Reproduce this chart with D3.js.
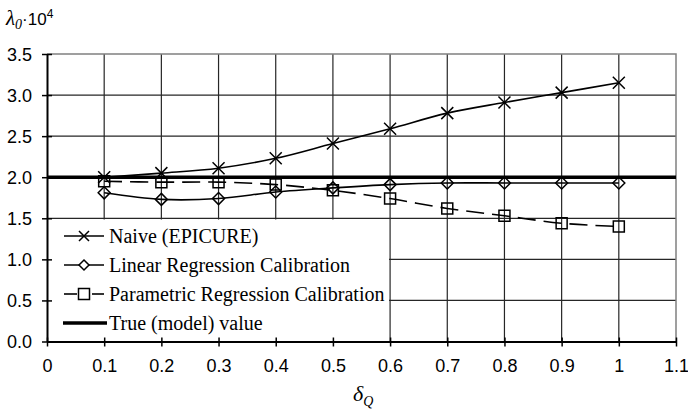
<!DOCTYPE html>
<html>
<head>
<meta charset="utf-8">
<script src="https://cdn.jsdelivr.net/npm/d3@7"></script>
<style>
  html, body { margin: 0; padding: 0; background: #fff; }
  svg { display: block; }
  .sans { font-family: "Liberation Sans", Arial, Helvetica, sans-serif; }
  .serif { font-family: "Liberation Serif", "Times New Roman", Times, "DejaVu Serif", serif; }
</style>
</head>
<body>
<svg id="chart" width="688" height="411"></svg>
<script>
// δQ values on the horizontal axis
const deltaQ = [0.1, 0.2, 0.3, 0.4, 0.5, 0.6, 0.7, 0.8, 0.9, 1.0];
// Estimated λ0·10^4 for each method
const naive      = [2.00, 2.05, 2.11, 2.23, 2.41, 2.59, 2.78, 2.91, 3.03, 3.15];
const linearRC   = [1.81, 1.73, 1.74, 1.82, 1.87, 1.91, 1.93, 1.93, 1.93, 1.93];
const parametric = [1.95, 1.94, 1.94, 1.91, 1.84, 1.74, 1.62, 1.53, 1.44, 1.40];
const trueValue = 2.0;

const xTicks = [0, 0.1, 0.2, 0.3, 0.4, 0.5, 0.6, 0.7, 0.8, 0.9, 1, 1.1];
const xTickLabels = ["0", "0.1", "0.2", "0.3", "0.4", "0.5", "0.6", "0.7", "0.8", "0.9", "1", "1.1"];
const yTicks = [0, 0.5, 1.0, 1.5, 2.0, 2.5, 3.0, 3.5];
const yTickLabels = ["0.0", "0.5", "1.0", "1.5", "2.0", "2.5", "3.0", "3.5"];

const legendNames = ["Naive (EPICURE)", "Linear Regression Calibration", "Parametric Regression Calibration", "True (model) value"];

const svg = d3.select("#chart");
const x = d3.scaleLinear().domain([0, 1.1]).range([47, 676]);
const y = d3.scaleLinear().domain([0, 3.5]).range([341.5, 54]);

// Grid
const grid = svg.append("g");
grid.selectAll("line.v").data(xTicks.slice(1, -1)).join("line")
  .attr("x1", d => x(d)).attr("x2", d => x(d))
  .attr("y1", y(3.5)).attr("y2", y(0))
  .attr("stroke", "#262626").attr("stroke-width", 1.2);
grid.selectAll("line.h").data(yTicks.slice(1, -1)).join("line")
  .attr("x1", x(0)).attr("x2", x(1.1))
  .attr("y1", d => y(d)).attr("y2", d => y(d))
  .attr("stroke", "#262626").attr("stroke-width", 1.2);
// Plot frame (top and right)
svg.append("path")
  .attr("d", `M${x(0)},${y(3.5)}H${x(1.1)}V${y(0)}`)
  .attr("fill", "none").attr("stroke", "#808080").attr("stroke-width", 1.5);

// Legend panel covering the lower-left grid
const legendBox = { x0: x(0) + 1, x1: 389, y0: 219.5, y1: y(0) };
svg.append("rect")
  .attr("x", legendBox.x0).attr("y", legendBox.y0)
  .attr("width", legendBox.x1 - legendBox.x0).attr("height", legendBox.y1 - legendBox.y0)
  .attr("fill", "#fff");

// Axes
const xAxis = d3.axisBottom(x).tickValues(xTicks).tickSize(0).tickFormat((d, i) => xTickLabels[i]);
const gx = svg.append("g").attr("transform", `translate(0,${y(0)})`).call(xAxis)
  .attr("font-family", null).attr("font-size", null);
gx.select(".domain").attr("stroke", "#000").attr("stroke-width", 2);
gx.selectAll(".tick text").attr("class", "sans").style("font-size", "18px").attr("fill", "#000").attr("dy", 0).attr("y", 30);
gx.selectAll(".tick").append("line").attr("y1", -4).attr("y2", 5).attr("stroke", "#000").attr("stroke-width", 1.5);

const yAxis = d3.axisLeft(y).tickValues(yTicks).tickSize(0).tickFormat((d, i) => yTickLabels[i]);
const gy = svg.append("g").attr("transform", `translate(${x(0)},0)`).call(yAxis)
  .attr("font-family", null).attr("font-size", null);
gy.select(".domain").attr("stroke", "#000").attr("stroke-width", 2);
gy.selectAll(".tick text").attr("class", "sans").style("font-size", "18px").attr("fill", "#000").attr("x", -15).attr("dy", "0.35em");
gy.selectAll(".tick").append("line").attr("x1", -5).attr("x2", 5).attr("stroke", "#000").attr("stroke-width", 1.5);

// True value line
svg.append("line")
  .attr("x1", x(0)).attr("x2", x(1.1))
  .attr("y1", y(trueValue)).attr("y2", y(trueValue))
  .attr("stroke", "#000").attr("stroke-width", 3.5);

// Series
const line = d3.line().curve(d3.curveCatmullRom.alpha(0.5)).x(d => x(d[0])).y(d => y(d[1]));
const zipped = vals => deltaQ.map((d, i) => [d, vals[i]]);

svg.append("path").datum(zipped(naive)).attr("d", line)
  .attr("fill", "none").attr("stroke", "#000").attr("stroke-width", 1.6);
svg.append("path").datum(zipped(linearRC)).attr("d", line)
  .attr("fill", "none").attr("stroke", "#000").attr("stroke-width", 1.6);
svg.append("path").datum(zipped(parametric)).attr("d", line)
  .attr("fill", "none").attr("stroke", "#000").attr("stroke-width", 1.6)
  .attr("stroke-dasharray", "18,8");

// Marker shapes
const crossPath = (cx, cy, r) => `M${cx - r},${cy - r}L${cx + r},${cy + r}M${cx - r},${cy + r}L${cx + r},${cy - r}`;
const diamondPath = (cx, cy, r) => `M${cx},${cy - r}L${cx + r},${cy}L${cx},${cy + r}L${cx - r},${cy}Z`;
const squarePath = (cx, cy, r) => `M${cx - r},${cy - r}H${cx + r}V${cy + r}H${cx - r}Z`;

svg.append("g").selectAll("path").data(zipped(naive)).join("path")
  .attr("d", d => crossPath(x(d[0]), y(d[1]), 6))
  .attr("fill", "none").attr("stroke", "#000").attr("stroke-width", 1.5);
svg.append("g").selectAll("path").data(zipped(linearRC)).join("path")
  .attr("d", d => diamondPath(x(d[0]), y(d[1]), 6))
  .attr("fill", "none").attr("stroke", "#000").attr("stroke-width", 1.5);
svg.append("g").selectAll("path").data(zipped(parametric)).join("path")
  .attr("d", d => squarePath(x(d[0]), y(d[1]), 5.5))
  .attr("fill", "none").attr("stroke", "#000").attr("stroke-width", 1.5);

// Legend entries
const lg = svg.append("g");
const rowY = [236, 265, 294, 323];
const sx0 = 64, sx1 = 104, sxm = 84;
lg.append("line").attr("x1", sx0).attr("x2", sx1).attr("y1", rowY[0]).attr("y2", rowY[0]).attr("stroke", "#000").attr("stroke-width", 1.6);
lg.append("path").attr("d", crossPath(sxm, rowY[0], 5)).attr("fill", "none").attr("stroke", "#000").attr("stroke-width", 1.5);
lg.append("line").attr("x1", sx0).attr("x2", sx1).attr("y1", rowY[1]).attr("y2", rowY[1]).attr("stroke", "#000").attr("stroke-width", 1.6);
lg.append("path").attr("d", diamondPath(sxm, rowY[1], 5)).attr("fill", "#fff").attr("stroke", "#000").attr("stroke-width", 1.5);
lg.append("line").attr("x1", sx0).attr("x2", 77).attr("y1", rowY[2]).attr("y2", rowY[2]).attr("stroke", "#000").attr("stroke-width", 1.6);
lg.append("line").attr("x1", 92).attr("x2", sx1).attr("y1", rowY[2]).attr("y2", rowY[2]).attr("stroke", "#000").attr("stroke-width", 1.6);
lg.append("path").attr("d", squarePath(sxm, rowY[2], 5.5)).attr("fill", "#fff").attr("stroke", "#000").attr("stroke-width", 1.5);
lg.append("line").attr("x1", sx0 - 1).attr("x2", sx1 + 3).attr("y1", rowY[3]).attr("y2", rowY[3]).attr("stroke", "#000").attr("stroke-width", 3.5);
lg.selectAll("text").data(legendNames).join("text")
  .attr("class", "serif")
  .attr("x", 109).attr("y", (d, i) => rowY[i]).attr("dy", "0.33em")
  .style("font-size", "20px").attr("fill", "#000")
  .text(d => d);

// Axis titles
const yt = svg.append("text").attr("x", 6).attr("y", 25).attr("fill", "#000");
yt.append("tspan").attr("class", "serif").style("font-style", "italic").style("font-size", "21px").text("λ");
yt.append("tspan").attr("class", "serif").style("font-style", "italic").style("font-size", "14px").attr("dy", 4).text("0");
yt.append("tspan").attr("class", "sans").style("font-size", "17px").attr("dy", -4).text("·10");
yt.append("tspan").attr("class", "sans").style("font-size", "12px").attr("dy", -7).text("4");

const xt = svg.append("text").attr("x", 353).attr("y", 401).attr("fill", "#000");
xt.append("tspan").attr("class", "serif").style("font-style", "italic").style("font-size", "22px").text("δ");
xt.append("tspan").attr("class", "serif").style("font-style", "italic").style("font-size", "14px").attr("dy", 5).text("Q");
</script>
</body>
</html>
